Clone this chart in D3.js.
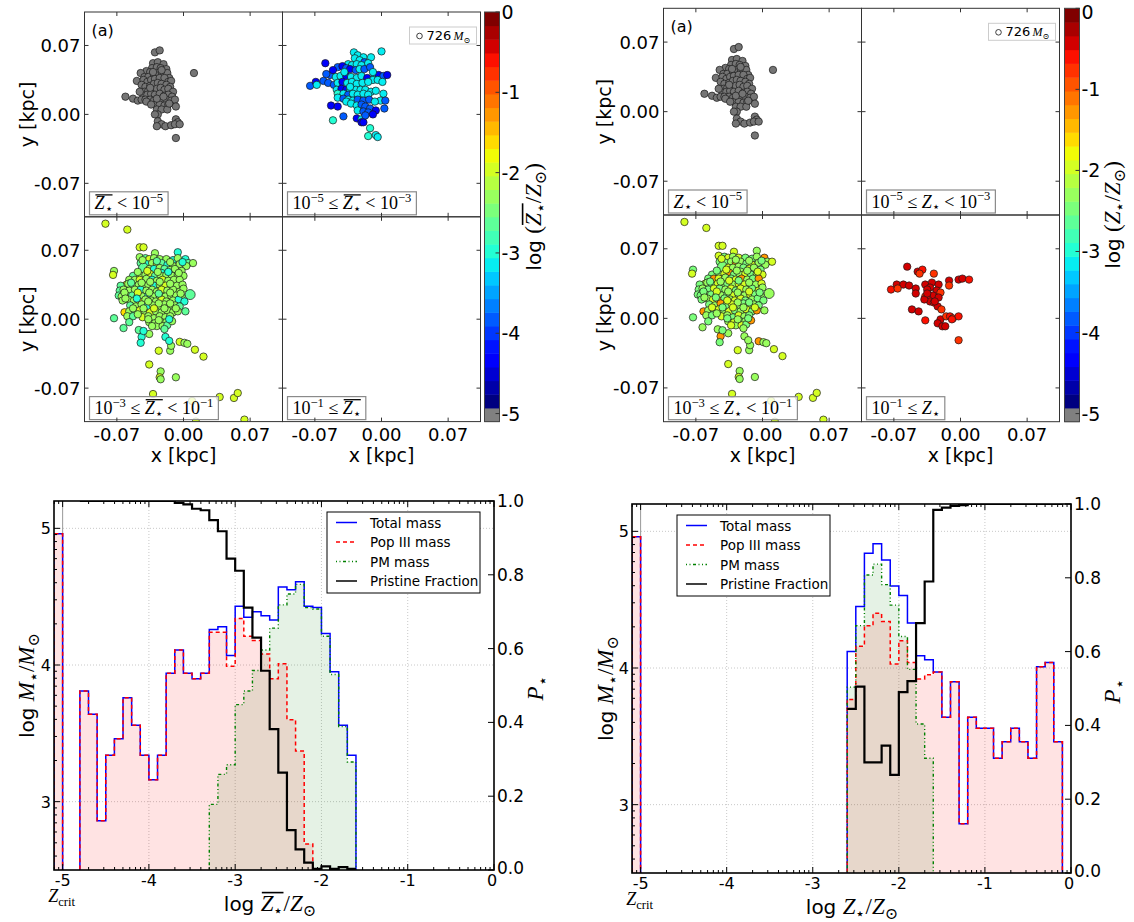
<!DOCTYPE html>
<html><head><meta charset="utf-8">
<script src="https://cdnjs.cloudflare.com/ajax/libs/d3/7.8.5/d3.min.js"></script>
<style>body{margin:0;background:#fff}svg{display:block}text{white-space:pre}</style>
</head><body><svg id="c" width="1134" height="922"></svg>
<script>
// ================= DATA =================
// scatter positions in pc (x, y)
const grayPts=[[-30,63],[-25,65],[-32,52],[-27,53],[-21,51],[-33,47],[-28,48],[-24,47],[-18,46],[-39,44],[-35,43],[-45,42],[-41,38],[-37,38],[-31,40],[-27,42],[-23,43],[-17,42],[-15,37],[-49,34],[-42,35],[-38,33],[-34,35],[-30,36],[-25,37],[-20,37],[-16,33],[-13,34],[-44,30],[-40,28],[-35,29],[-31,31],[-27,32],[-23,31],[-18,30],[-14,28],[-41,23],[-37,24],[-33,25],[-28,26],[-24,27],[-20,25],[-16,26],[-11,23],[-42,19],[-38,20],[-34,21],[-30,20],[-25,21],[-20,19],[-16,20],[-12,18],[-61,18],[-53,16],[-48,14],[-44,15],[-40,15],[-35,15],[-31,14],[-27,15],[-23,13],[-18,15],[-13,14],[-9,15],[-30,10],[-25,10],[-20,9],[-16,10],[-8,8],[-28,5],[-23,5],[-17,5],[-27,0],[-30,0],[-27,-7],[-23,-10],[-28,-12],[-19,-12],[-13,-11],[-8,-5],[-6,-8],[-9,-10],[-4,-10],[11,42],[-8,-24],[-32,43],[-23,45],[-35,27],[-46,23],[-28,16],[-21,18],[-15,11],[-39,13],[-34,10]];
// x, y, colour class (left block, 10^-5..10^-3 panel)
const bluePts=[[-29,63,'c'],[0,64,'c'],[-25,60,'c'],[-19,58,'c'],[-11,58,'c'],[-28,57,'c'],[-23,55,'c'],[-18,53,'b'],[-59,52,'B'],[-35,51,'c'],[-31,50,'c'],[-26,51,'c'],[-21,50,'c'],[-14,52,'c'],[-46,48,'b'],[-41,49,'B'],[-37,47,'b'],[-33,46,'B'],[-27,45,'b'],[-23,46,'c'],[-18,46,'b'],[-12,48,'b'],[-7,40,'c'],[-3,40,'B'],[2,39,'b'],[6,40,'B'],[-54,40,'b'],[-48,38,'c'],[-43,39,'c'],[-37,39,'B'],[-32,38,'c'],[-26,37,'c'],[-21,39,'c'],[-15,37,'B'],[-9,35,'c'],[-4,35,'c'],[1,33,'c'],[-75,29,'b'],[-69,33,'B'],[-68,30,'c'],[-61,34,'b'],[-56,32,'b'],[-50,30,'b'],[-46,32,'c'],[-41,33,'B'],[-36,32,'c'],[-31,33,'c'],[-26,31,'c'],[-20,32,'c'],[-14,33,'c'],[-47,25,'c'],[-42,26,'B'],[-37,25,'B'],[-33,25,'c'],[-27,25,'c'],[-22,25,'c'],[-17,25,'c'],[-11,23,'c'],[-6,24,'c'],[-46,21,'t'],[-40,21,'c'],[-35,20,'b'],[-30,21,'c'],[-25,20,'c'],[-19,21,'c'],[-14,20,'c'],[2,21,'c'],[-1,14,'c'],[4,14,'b'],[-46,17,'c'],[-40,16,'b'],[-35,15,'c'],[-30,14,'c'],[-25,15,'b'],[-19,14,'b'],[-13,15,'b'],[-7,13,'c'],[-53,9,'B'],[-46,8,'B'],[-37,13,'c'],[-32,11,'c'],[-26,9,'c'],[-21,10,'b'],[-17,8,'b'],[-12,6,'b'],[-6,4,'B'],[3,6,'b'],[-25,4,'c'],[-19,3,'b'],[-14,2,'b'],[-9,0,'B'],[-26,-4,'B'],[-21,-5,'c'],[-40,-2,'b'],[-51,-6,'t'],[-21,-8,'B'],[-19,-8,'B'],[-12,-14,'t'],[-14,-22,'t'],[-6,-21,'c'],[-4,-23,'c'],[-17,-1,'b'],[-33,28,'c'],[-39,43,'c'],[-9,43,'c'],[-51,45,'B'],[-58,41,'b']];
// x, y, classes "LR" (L: mean-Z colour, R: Z-star colour), big flag
const yelPts=[[-82,97,'YY'],[-59,91,'YY'],[-46,73,'YY'],[-42,73,'YY'],[-73,49,'Gg'],[-74,45,'YY'],[-6,68,'TG'],[-30,67,'GY'],[7,25,'gG',1],[-73,1,'gg'],[-63,-9,'gG'],[-47,-11,'gG'],[-44,-18,'TO'],[-45,-24,'Tg'],[-36,-15,'GG'],[-26,-32,'YY'],[-14,-32,'GG'],[-13,-27,'GG'],[-4,-23,'YO'],[1,-24,'GG'],[4,-25,'GG'],[12,-31,'YY'],[21,-38,'YY'],[-36,-46,'YY'],[-24,-53,'GG'],[-25,-59,'YY'],[-24,-61,'GG'],[-8,-59,'GG'],[-32,-76,'YY'],[9,-83,'YY'],[38,-79,'YY'],[53,-80,'YY'],[57,-75,'YY'],[64,-102,'YY'],[13,-104,'YY'],
[-46,63,'GY'],[-40,62,'gg'],[-36,61,'YY'],[-31,62,'GG'],[-25,61,'GY'],[-18,61,'Gg'],[-11,60,'Tg'],[-6,62,'GG'],[2,61,'TO'],[5,57,'gG'],[10,57,'GY'],
[-45,57,'gg'],[-39,56,'Tg'],[-33,57,'GG'],[-28,56,'YO'],[-23,57,'gG'],[-17,55,'Tg'],[-11,54,'GY'],[-4,56,'GG'],[3,54,'GG'],
[-42,52,'gg',1],[-36,51,'GY'],[-31,51,'TG'],[-25,52,'GG'],[-20,51,'gg'],[-14,50,'GY'],[-9,51,'GG'],[-2,49,'Gg'],[-23,47,'TG'],
[-46,44,'GG'],[-40,45,'GY'],[-35,46,'YO'],[-30,44,'gg'],[-24,44,'GG'],[-18,45,'GY'],[-12,44,'Gg'],[-6,45,'GG'],[0,44,'GY'],[-53,44,'gg'],
[-57,40,'Gg'],[-51,40,'GO'],[-46,40,'YY'],[-39,41,'GG'],[-33,40,'Tg'],[-28,39,'GY'],[-22,40,'YO'],[-16,39,'GG'],[-10,40,'Gg'],[-4,40,'GO'],[-60,35,'OY'],
[-66,34,'gg'],[-58,36,'GG'],[-53,34,'Gg'],[-47,35,'GY'],[-42,34,'GG'],[-37,35,'Gg'],[-31,34,'TG'],[-25,35,'GY'],[-19,34,'YY'],[-13,33,'Gg'],[-7,34,'GG'],[-1,35,'GY'],
[-67,29,'gg'],[-63,30,'GG'],[-57,29,'Gg'],[-51,30,'GY'],[-45,30,'Tg'],[-39,29,'GG'],[-33,30,'GY'],[-28,28,'Gg'],[-23,30,'YY'],[-17,29,'GG'],[-11,30,'Gg'],[-4,28,'GY'],[0,31,'GG'],
[-68,24,'gg'],[-65,23,'Gg'],[-60,24,'GG'],[-54,24,'gg'],[-48,24,'GY'],[-43,23,'GG'],[-37,24,'Tg'],[-31,23,'GY'],[-25,24,'Gg'],[-19,23,'GG'],[-13,24,'GY'],[-8,24,'Gg'],[-2,23,'GG'],
[-64,19,'Gg'],[-58,20,'GG'],[-52,19,'GY'],[-46,18,'OO'],[-40,20,'Gg'],[-34,19,'GG'],[-29,18,'GY'],[-23,20,'YY'],[-18,18,'Gg'],[-11,19,'GG'],[-5,20,'Tg'],[1,18,'Tg'],
[-56,14,'gg'],[-50,13,'GG'],[-44,15,'GO'],[-38,13,'Tg'],[-32,14,'GY'],[-26,13,'GG'],[-20,15,'Gg'],[-15,13,'GY'],[-9,14,'GG'],[-4,13,'gg'],[2,8,'gG'],
[-62,7,'OO'],[-57,8,'GG'],[-51,8,'gg'],[-46,9,'YY'],[-40,7,'GG'],[-34,6,'YY',1],[-29,8,'Gg'],[-23,7,'GG'],[-17,9,'GY'],[-11,7,'Gg'],[-6,8,'GO'],
[-59,3,'GG'],[-53,3,'gg'],[-43,2,'YY'],[-37,3,'GG'],[-31,1,'Gg'],[-25,3,'GY'],[-19,2,'GG'],[-14,3,'Gg'],[-57,-3,'gg'],
[-36,-3,'GG'],[-30,-4,'GY'],[-23,-3,'Gg'],[-18,-3,'GG'],[-28,-7,'GG'],[-22,-7,'GY'],[-17,-6,'gg'],[-12,-2,'GO'],
[-42,-12,'Tg'],[-19,-18,'TG'],[-15,-22,'TG'],
[-43,60,'GY'],[-28,59,'gG'],[-14,58,'GG'],[-1,58,'Tg'],[-48,48,'Gg'],[-38,49,'YY'],[-27,48,'GG'],[-16,48,'TG'],[-5,47,'GY'],[-55,37,'gg'],[-44,37,'GG'],[-35,38,'GY'],[-25,38,'Gg'],[-14,36,'GG'],[-62,27,'Gg'],[-48,27,'YY'],[-36,27,'GG'],[-26,26,'gG'],[-14,27,'GY'],[-3,26,'Gg'],[-61,21,'GG'],[-49,21,'Tg'],[-37,18,'GY'],[-26,16,'GG'],[-14,16,'Gg'],[-53,11,'GY'],[-42,11,'Gg'],[-31,11,'YY'],[-20,11,'GG'],[-8,11,'GY'],[-48,5,'GG'],[-37,0,'Gg'],[-26,-1,'GG'],[-15,0,'Tg'],[-33,-7,'GY'],[-20,-10,'gG']];
// x, y, colour class (right block, Z* >= 10^-1 panel)
const redPts=[[-56,52,'R'],[-45,47,'R'],[-40,49,'r'],[-43,45,'o'],[-28,45,'o'],[-67,34,'R'],[-60,34,'R'],[-73,29,'r'],[-66,30,'o'],[-54,33,'R'],[-47,30,'R'],[-47,25,'R'],[-37,34,'R'],[-30,36,'R'],[-23,34,'R'],[-32,31,'R'],[-25,28,'R'],[-21,26,'o'],[-35,29,'R'],[-29,23,'R'],[-37,22,'o'],[-35,21,'r'],[-23,21,'R'],[-32,17,'R'],[-28,16,'r'],[-38,19,'R'],[-24,12,'R'],[-20,9,'o'],[-12,38,'R'],[-12,33,'o'],[-2,39,'R'],[2,40,'R'],[9,39,'r'],[-51,9,'R'],[-44,7,'R'],[-37,-2,'r'],[-21,-1,'R'],[-24,-5,'R'],[-19,-8,'R'],[-16,-8,'R'],[-15,2,'o'],[-11,2,'r'],[-8,0,'o'],[-2,2,'r'],[-9,-1,'r'],[-2,-22,'o'],[-35,25,'R'],[-27,17,'R']];
// log Z values
const zBarClass={B:-4.4,b:-3.8,c:-3.2,t:-2.9,Y:-2.0,G:-2.3,g:-2.6,T:-2.9,O:-1.6};
const zStarClass={Y:-1.95,G:-2.35,g:-2.5,T:-2.6,O:-1.3,R:-0.35,r:-0.6,o:-0.85};
const xTicksPc=[-70,0,70];
const cbTicks=[0,-1,-2,-3,-4,-5];

// histogram (left: mean metallicity)
const binLoL=[-5.1,-5.0,-4.9,-4.8,-4.7,-4.6,-4.5,-4.4,-4.3,-4.2,-4.1,-4.0,-3.9,-3.8,-3.7,-3.6,-3.5,-3.4,-3.3,-3.2,-3.1,-3.0,-2.9,-2.8,-2.7,-2.6,-2.5,-2.4,-2.3,-2.2,-2.1,-2.0,-1.9,-1.8,-1.7];
const totalL=[4.96,null,null,3.81,3.64,2.86,3.34,3.46,3.76,3.56,3.34,3.16,3.34,3.94,4.11,3.94,3.90,3.94,4.26,4.28,4.07,4.43,4.35,4.39,4.36,4.33,4.57,4.55,4.61,4.43,4.42,4.23,3.95,3.56,3.34];
const popL=[4.96,null,null,3.81,3.64,2.86,3.34,3.46,3.76,3.56,3.34,3.16,3.34,3.94,4.11,3.94,3.90,3.94,4.24,4.24,3.99,4.34,4.21,4.18,4.08,3.90,4.01,3.60,3.37,2.69,null,null,null,null,null];
const pmL=[null,null,null,null,null,null,null,null,null,null,null,null,null,null,null,null,null,null,2.98,3.20,3.27,3.71,3.81,3.96,4.11,4.27,4.44,4.52,4.59,4.42,4.41,4.21,3.93,3.55,3.29];
const pristineL=[null,null,null,1.0,1.0,1.0,1.0,1.0,1.0,1.0,1.0,1.0,1.0,1.0,0.995,0.991,0.979,0.975,0.948,0.918,0.844,0.811,0.711,0.630,0.540,0.382,0.264,0.108,0.056,0.020,0.003,0.010,0.003,0.008,0.003];
// histogram (right: Z*)
const binLoR=[-5.1,-2.6,-2.5,-2.4,-2.3,-2.2,-2.1,-2.0,-1.9,-1.8,-1.7,-1.6,-1.5,-1.4,-1.3,-1.2,-1.1,-1.0,-0.9,-0.8,-0.7,-0.6,-0.5,-0.4,-0.3,-0.2];
const totalR=[4.96,4.12,4.45,4.84,4.91,4.79,4.60,4.53,4.33,4.09,4.06,3.97,3.64,3.90,2.86,3.64,3.56,3.56,3.34,3.46,3.56,3.46,3.34,4.01,4.04,3.46];
const popR=[4.96,3.77,4.16,4.31,4.40,4.34,4.03,4.20,4.04,3.92,3.95,3.97,3.64,3.90,2.86,3.64,3.56,3.56,3.34,3.46,3.56,3.46,3.34,4.01,4.04,3.46];
const pmR=[null,3.86,4.31,4.68,4.76,4.61,4.46,4.23,3.99,3.59,3.34,null,null,null,null,null,null,null,null,null,null,null,null,null,null,null];
const pristineR=[null,0.445,0.505,0.30,0.30,0.345,0.266,0.49,0.52,0.677,0.79,0.984,0.99,0.995,0.997,1.0,1.0,1.0,1.0,1.0,1.0,1.0,1.0,1.0,1.0,1.0];
const histXTicks=[-5,-4,-3,-2,-1,0];
const histYTicks=[3,4,5];
const pTicks=[0,0.2,0.4,0.6,0.8,1.0];
const legendNames=['Total mass','Pop III mass','PM mass','Pristine Fraction'];

// ================= DRAWING =================
const SANS="'DejaVu Sans', sans-serif", SERIF="'Liberation Serif','DejaVu Serif', serif";
const svg=d3.select('#c');
const defs=svg.append('defs');
let clipN=0;
function clipRect(x,y,w,h){const id='cl'+(clipN++);defs.append('clipPath').attr('id',id).append('rect').attr('x',x).attr('y',y).attr('width',w).attr('height',h);return `url(#${id})`;}

const jetR=d3.scaleLinear([0,0.35,0.66,0.89,1],[0,0,1,1,0.5]).clamp(true);
const jetG=d3.scaleLinear([0,0.125,0.375,0.64,0.91,1],[0,0,1,1,0,0]).clamp(true);
const jetB=d3.scaleLinear([0,0.11,0.34,0.65,1],[0.5,1,1,0,0]).clamp(true);
const cbMin=-5.1,cbMax=0,nBands=30;
function bandColor(i){ if(i<=0) return '#808080'; const t=(i-1)/(nBands-2); return d3.rgb(jetR(t)*255,jetG(t)*255,jetB(t)*255).formatHex(); }
function zColor(z){ let i=Math.floor((z-cbMin)/(cbMax-cbMin)*nBands); i=Math.max(0,Math.min(nBands-1,i)); return bandColor(i); }

// o.size: sans size, o.msize: math (serif) size
function mathText(parent,segs,o){
  const ms=o.msize||o.size, grp=parent.append('g');
  let x=0; const ol=[];
  segs.forEach(s=>{
    const base=s.sans?o.size:ms;
    const small=s.sup||s.sub;
    const fs=small?ms*0.7:base;
    const dy=s.sup?-ms*0.4:(s.sub?ms*0.22:0);
    const t=grp.append('text').attr('x',x).attr('y',dy).attr('font-size',fs).attr('xml:space','preserve')
      .attr('font-family',s.sans?SANS:SERIF).attr('font-style',s.it?'italic':'normal').attr('fill','#000').text(s.t);
    const w=t.node().getComputedTextLength();
    if(s.ol) ol.push([x,x+w]);
    x+=w;
  });
  if(ol.length){const a=d3.min(ol,d=>d[0])+ms*0.05,b=d3.max(ol,d=>d[1]);
    grp.append('line').attr('x1',a).attr('x2',b).attr('y1',-ms*0.8).attr('y2',-ms*0.8).attr('stroke','#000').attr('stroke-width',Math.max(1,ms*0.07));}
  const off=o.anchor==='middle'?-x/2:(o.anchor==='end'?-x:0);
  grp.attr('transform',`translate(${o.x},${o.y}) rotate(${o.rot||0}) translate(${off},0)`);
  return x;
}
const ZS=(ol)=>[{t:'Z',it:1,ol:ol},{t:'⋆',sub:1,ol:ol}];

function drawBlock(B){
  const g=svg.append('g');
  const W=B.w,H=B.h;
  for(let r=0;r<2;r++)for(let c=0;c<2;c++){
    const px=B.x0+c*W, py=B.y0+r*H, idx=r*2+c;
    const xs=d3.scaleLinear().domain([-104,104]).range([px,px+W]);
    const ys=d3.scaleLinear().domain([-104,104]).range([py+H,py]);
    const P=B.panels[idx];
    const pg=g.append('g').attr('clip-path',clipRect(px,py,W,H));
    pg.selectAll('circle').data(P.data).join('circle')
      .attr('cx',d=>xs(d[0])).attr('cy',d=>ys(d[1])).attr('r',d=>d[3]===1||d[4]===1?5:3.7)
      .attr('fill',P.color).attr('stroke','#1a1a1a').attr('stroke-width',0.7);
    // label box
    const lb=g.append('g');
    const tw=mathText(lb,B.labels[idx],{x:px+10,y:py+H-7.5,size:18});
    lb.insert('rect',':first-child').attr('x',px+5).attr('y',py+H-25).attr('width',tw+10).attr('height',23)
      .attr('fill','#fff').attr('fill-opacity',0.8).attr('stroke','#8a8a8a').attr('stroke-width',1.2);
    // ticks
    xTicksPc.forEach(v=>{
      [[xs(v),py+H,xs(v),py+H-4],[xs(v),py,xs(v),py+4],[px,ys(v),px+4,ys(v)],[px+W,ys(v),px+W-4,ys(v)]].forEach(L=>
        g.append('line').attr('x1',L[0]).attr('y1',L[1]).attr('x2',L[2]).attr('y2',L[3]).attr('stroke','#333').attr('stroke-width',1));
      if(c===0) g.append('text').attr('x',px-4).attr('y',ys(v)+6.5).attr('text-anchor','end').attr('font-family',SANS).attr('font-size',18).text((v/1000).toFixed(2));
      if(r===1) g.append('text').attr('x',xs(v)).attr('y',py+H+19).attr('text-anchor','middle').attr('font-family',SANS).attr('font-size',18).text((v/1000).toFixed(2));
    });
    g.append('rect').attr('x',px).attr('y',py).attr('width',W).attr('height',H).attr('fill','none').attr('stroke','#333').attr('stroke-width',1);
    if(c===0) g.append('text').attr('transform',`translate(${B.ytX},${py+H/2}) rotate(-90)`).attr('text-anchor','middle').attr('font-family',SANS).attr('font-size',19).text('y [kpc]');
    if(r===1) g.append('text').attr('x',px+W/2).attr('y',py+H+40).attr('text-anchor','middle').attr('font-family',SANS).attr('font-size',19).text('x [kpc]');
  }
  // (a) label
  g.append('text').attr('x',B.x0+7).attr('y',B.y0+24).attr('font-family',SANS).attr('font-size',16).text('(a)');
  // size legend
  const lx=B.x0+2*W-71, ly=B.y0+15;
  g.append('rect').attr('x',lx).attr('y',ly).attr('width',67).attr('height',17).attr('fill','#fff').attr('stroke','#ccc');
  g.append('circle').attr('cx',lx+10).attr('cy',ly+9).attr('r',2.8).attr('fill','none').attr('stroke','#111').attr('stroke-width',0.8);
  g.append('text').attr('x',lx+17).attr('y',ly+13).attr('font-family',SANS).attr('font-size',13).text('726');
  mathText(g,[{t:'M',it:1},{t:'⊙',sub:1}],{x:lx+44,y:ly+13,size:12});
  // colorbar
  const cy=d3.scaleLinear().domain([cbMin,cbMax]).range([B.y0+2*H,B.y0]);
  const bw=(cbMax-cbMin)/nBands;
  const bands=d3.range(nBands);
  g.selectAll('rect.band').data(bands).join('rect').attr('class','band')
    .attr('x',B.cbX).attr('width',15).attr('y',i=>cy(cbMin+(i+1)*bw)).attr('height',i=>cy(cbMin+i*bw)-cy(cbMin+(i+1)*bw)+0.5).attr('fill',i=>bandColor(i));
  g.append('rect').attr('x',B.cbX).attr('y',B.y0).attr('width',15).attr('height',2*H).attr('fill','none').attr('stroke','#444');
  cbTicks.forEach(v=>{
    g.append('line').attr('x1',B.cbX+15).attr('x2',B.cbX+11).attr('y1',cy(v)).attr('y2',cy(v)).attr('stroke','#333');
    g.append('text').attr('x',B.cbX+17).attr('y',Math.max(cy(v)+7,19)).attr('font-family',SANS).attr('font-size',19).text(String(v));
  });
  mathText(g,[{t:'log ',sans:1},{t:'('},...ZS(B.bar),{t:'/'},{t:'Z',it:1},{t:'⊙',sub:1},{t:')'}],{x:B.cbLX,y:B.y0+H,size:20,msize:23,rot:-90,anchor:'middle'});
}

const sup=t=>({t:t,sup:1});
function labelsFor(ol){return [
  [...ZS(ol),{t:' < 10'},sup('−5')],
  [{t:'10'},sup('−5'),{t:' ≤ '},...ZS(ol),{t:' < 10'},sup('−3')],
  [{t:'10'},sup('−3'),{t:' ≤ '},...ZS(ol),{t:' < 10'},sup('−1')],
  [{t:'10'},sup('−1'),{t:' ≤ '},...ZS(ol)]];}

drawBlock({x0:84.5,y0:12,w:198,h:204.8,cbX:484.5,cbLX:541,ytX:34,bar:1,labels:labelsFor(1),
  panels:[{data:grayPts,color:'#757575'},{data:bluePts,color:d=>zColor(zBarClass[d[2]])},
          {data:yelPts,color:d=>zColor(zBarClass[d[2][0]])},{data:[],color:'#000'}]});
drawBlock({x0:663.5,y0:8.3,w:198,h:206.7,cbX:1064.5,cbLX:1120,ytX:611,bar:0,labels:labelsFor(0),
  panels:[{data:grayPts,color:'#757575'},{data:[],color:'#000'},
          {data:yelPts,color:d=>zColor(zStarClass[d[2][1]])},{data:redPts,color:d=>zColor(zStarClass[d[2]])}]});

// ---------- histograms ----------
function stepPath(x,y,lo,vals,w,base){
  let d='',open=false,prevHi=null;
  const close=()=>{ if(open&&base!=null) d+=`L${x(prevHi)},${y(base)}`; open=false; };
  for(let i=0;i<lo.length;i++){
    const v=vals[i]; if(v==null){close();continue;}
    const a=lo[i],b=lo[i]+w;
    if(open&&Math.abs(a-prevHi)>1e-6) close();
    if(!open){ d+= base!=null?`M${x(a)},${y(base)}L${x(a)},${y(v)}`:`M${x(a)},${y(v)}`; open=true; }
    else d+=`L${x(a)},${y(v)}`;
    d+=`L${x(b)},${y(v)}`; prevHi=b;
  }
  close(); return d;
}
function drawHist(Hc){
  const g=svg.append('g');
  const {x0,x1,y0,y1}=Hc;
  const x=d3.scaleLinear().domain([-5.1,0]).range([x0,x1]);
  const y=d3.scaleLinear().domain([2.5,5.2]).range([y1,y0]);
  const yp=d3.scaleLinear().domain([0,1]).range([y1,y0]);
  const clip=clipRect(x0,y0,x1-x0,y1-y0);
  // grid
  histXTicks.slice(1,5).forEach(v=>g.append('line').attr('x1',x(v)).attr('x2',x(v)).attr('y1',y0).attr('y2',y1).attr('stroke','#c8c8c8').attr('stroke-dasharray','1,2'));
  histYTicks.forEach(v=>g.append('line').attr('x1',x0).attr('x2',x1).attr('y1',y(v)).attr('y2',y(v)).attr('stroke','#c8c8c8').attr('stroke-dasharray','1,2'));
  const pg=g.append('g').attr('clip-path',clip);
  const base=2.3;
  pg.append('path').attr('d',stepPath(x,y,Hc.lo,Hc.pm,0.1,base)+'Z').attr('fill','#008000').attr('fill-opacity',0.1);
  pg.append('path').attr('d',stepPath(x,y,Hc.lo,Hc.pop,0.1,base)+'Z').attr('fill','#ff0000').attr('fill-opacity',0.11);
  pg.append('line').attr('x1',x(-5)).attr('x2',x(-5)).attr('y1',y0).attr('y2',y1).attr('stroke','#999').attr('stroke-width',1);
  pg.append('path').attr('d',stepPath(x,y,Hc.lo,Hc.total,0.1,base)).attr('fill','none').attr('stroke','#0000ff').attr('stroke-width',1.5);
  pg.append('path').attr('d',stepPath(x,y,Hc.lo,Hc.pop,0.1,base)).attr('fill','none').attr('stroke','#ff0000').attr('stroke-width',1.5).attr('stroke-dasharray','4,3');
  pg.append('path').attr('d',stepPath(x,y,Hc.lo,Hc.pm,0.1,base)).attr('fill','none').attr('stroke','#008000').attr('stroke-width',1.4).attr('stroke-dasharray','1,2.5,1,2.5,3,2.5');
  pg.append('path').attr('d',stepPath(x,yp,Hc.lo,Hc.pri,0.1,null)).attr('fill','none').attr('stroke','#000').attr('stroke-width',2.2);
  // frame
  g.append('rect').attr('x',x0).attr('y',y0).attr('width',x1-x0).attr('height',y1-y0).attr('fill','none').attr('stroke','#000').attr('stroke-width',1.6);
  const tk=(a,b,c,d2)=>g.append('line').attr('x1',a).attr('y1',b).attr('x2',c).attr('y2',d2).attr('stroke','#000').attr('stroke-width',1);
  histXTicks.forEach(v=>{tk(x(v),y1,x(v),y1-6);tk(x(v),y0,x(v),y0+6);
    g.append('text').attr('x',v===0?x(v)-2:x(v)).attr('y',y1+16).attr('text-anchor','middle').attr('font-family',SANS).attr('font-size',16).text(String(v));});
  for(let k=-6;k<0;k++)for(let n=2;n<10;n++){const v=k+Math.log10(n); if(v>-5.1&&v<0){tk(x(v),y1,x(v),y1-3);tk(x(v),y0,x(v),y0+3);}}
  histYTicks.forEach(v=>{tk(x0,y(v),x0+6,y(v));
    g.append('text').attr('x',x0-3).attr('y',y(v)+6).attr('text-anchor','end').attr('font-family',SANS).attr('font-size',16).text(String(v));});
  for(let k=2;k<6;k++)for(let n=2;n<10;n++){const v=k+Math.log10(n); if(v>2.5&&v<5.2) tk(x0,y(v),x0+3,y(v));}
  pTicks.forEach(v=>{tk(x1,yp(v),x1-6,yp(v));
    g.append('text').attr('x',x1+3).attr('y',v===0?yp(v)+4:yp(v)+6).attr('font-family',SANS).attr('font-size',17).text(v.toFixed(1));});
  // labels
  mathText(g,[{t:'Z',it:1},{t:'crit',sub:1}],{x:x(-5)-1,y:y1+32,size:18,anchor:'middle'});
  mathText(g,[{t:'log ',sans:1},...ZS(Hc.bar),{t:'/'},{t:'Z',it:1},{t:'⊙',sub:1}],{x:Hc.xlX,y:y1+41,size:20,msize:23,anchor:'middle'});
  mathText(g,[{t:'log ',sans:1},{t:'M',it:1},{t:'⋆',sub:1},{t:'/'},{t:'M',it:1},{t:'⊙',sub:1}],{x:Hc.ylX,y:(y0+y1)/2,size:20,msize:23,rot:-90,anchor:'middle'});
  mathText(g,[{t:'P',it:1},{t:'⋆',sub:1}],{x:x1+49,y:(y0+y1)/2+3,size:23,rot:-90,anchor:'middle'});
  // legend
  const L=Hc.leg;
  g.append('rect').attr('x',L.x).attr('y',L.y).attr('width',153).attr('height',81).attr('fill','#fff').attr('stroke','#000').attr('stroke-width',1);
  const sty=[['#0000ff',null,1.5],['#ff0000','4,3',1.5],['#008000','1,2.5,1,2.5,3,2.5',1.4],['#000',null,1.5]];
  legendNames.forEach((nm,i)=>{const yy=L.y+10.5+i*19.5;
    g.append('line').attr('x1',L.x+9).attr('x2',L.x+30).attr('y1',yy).attr('y2',yy).attr('stroke',sty[i][0]).attr('stroke-width',sty[i][2]).attr('stroke-dasharray',sty[i][1]);
    g.append('text').attr('x',L.x+43).attr('y',yy+5).attr('font-family',SANS).attr('font-size',13.5).text(nm);});
}
drawHist({x0:54,x1:494,y0:501,y1:870,lo:binLoL,total:totalL,pop:popL,pm:pmL,pri:pristineL,bar:1,xlX:270,ylX:34,leg:{x:327,y:512}});
drawHist({x0:632,x1:1071,y0:504,y1:873,lo:binLoR,total:totalR,pop:popR,pm:pmR,pri:pristineR,bar:0,xlX:852,ylX:613,leg:{x:677,y:515}});
</script></body></html>
